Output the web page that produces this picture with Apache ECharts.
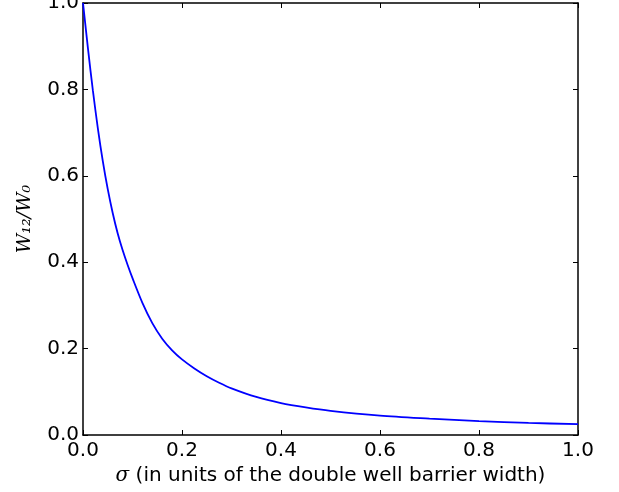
<!DOCTYPE html>
<html>
<head>
<meta charset="utf-8">
<script src="https://cdn.jsdelivr.net/npm/echarts@6/dist/echarts.min.js"></script>
<style>
html,body{margin:0;padding:0;background:#fff;}
#chart{width:619px;height:492px;}
</style>
</head>
<body>
<div id="chart"></div>
<script>
var sigmaValues = [0, 0.01, 0.02, 0.03, 0.04, 0.05, 0.06, 0.07, 0.08, 0.09, 0.10, 0.12, 0.14, 0.16, 0.18, 0.20, 0.225, 0.25, 0.275, 0.3, 0.35, 0.4, 0.45, 0.5, 0.6, 0.7, 0.8, 0.9, 1.0];
var ratioValues = [1.0, 0.895, 0.797, 0.710, 0.634, 0.569, 0.514, 0.467, 0.428, 0.394, 0.363, 0.306, 0.259, 0.223, 0.196, 0.175, 0.154, 0.136, 0.121, 0.108, 0.088, 0.074, 0.064, 0.056, 0.045, 0.038, 0.032, 0.028, 0.025];
var xTicks = [0.0, 0.2, 0.4, 0.6, 0.8, 1.0];
var yTicks = [0.0, 0.2, 0.4, 0.6, 0.8, 1.0];

var chart = echarts.init(document.getElementById('chart'), null, {renderer: 'canvas'});
var lineData = sigmaValues.map(function (s, i) { return [s, ratioValues[i]]; });
var fontFam = 'DejaVu Sans';
var frameLine = {show: true, onZero: false, lineStyle: {color: '#000', width: 1.5}};
var innerTick = {show: true, inside: true, length: 5, lineStyle: {color: '#000', width: 1}};

chart.setOption({
  backgroundColor: '#fff',
  animation: false,
  grid: {left: 83, right: 41, top: 3, bottom: 57, containLabel: false, outerBoundsMode: 'none'},
  xAxis: [{
    type: 'value', min: xTicks[0], max: xTicks[xTicks.length - 1], interval: 0.2,
    position: 'bottom',
    axisLine: frameLine, axisTick: innerTick, splitLine: {show: false},
    axisLabel: {color: '#000', fontFamily: fontFam, fontSize: 20, margin: 6,
      formatter: function (v) { return v.toFixed(1); }},
    name: '{s|σ} (in units of the double well barrier width)',
    nameLocation: 'middle', nameGap: 30,
    nameTextStyle: {color: '#000', fontFamily: fontFam, fontSize: 20,
      rich: {s: {fontFamily: 'DejaVu Serif', fontStyle: 'italic', fontSize: 20, color: '#000'}}}
  }, {
    type: 'value', min: xTicks[0], max: xTicks[xTicks.length - 1], interval: 0.2,
    position: 'top',
    axisLine: frameLine, axisTick: innerTick, splitLine: {show: false},
    axisLabel: {show: false}
  }],
  yAxis: [{
    type: 'value', min: yTicks[0], max: yTicks[yTicks.length - 1], interval: 0.2,
    position: 'left',
    axisLine: frameLine, axisTick: innerTick, splitLine: {show: false},
    axisLabel: {color: '#000', fontFamily: fontFam, fontSize: 20, margin: 4,
      formatter: function (v) { return v.toFixed(1); }},
    name: 'W₁₂/W₀',
    nameLocation: 'middle', nameGap: 48, nameRotate: 90,
    nameTextStyle: {color: '#000', fontFamily: 'DejaVu Serif', fontStyle: 'italic', fontSize: 19}
  }, {
    type: 'value', min: yTicks[0], max: yTicks[yTicks.length - 1], interval: 0.2,
    position: 'right',
    axisLine: frameLine, axisTick: innerTick, splitLine: {show: false},
    axisLabel: {show: false}
  }],
  series: [{
    type: 'line',
    data: lineData,
    xAxisIndex: 0, yAxisIndex: 0,
    showSymbol: false,
    smooth: 0.3,
    lineStyle: {color: '#0000ff', width: 1.8},
    clip: true
  }]
});
</script>
</body>
</html>
